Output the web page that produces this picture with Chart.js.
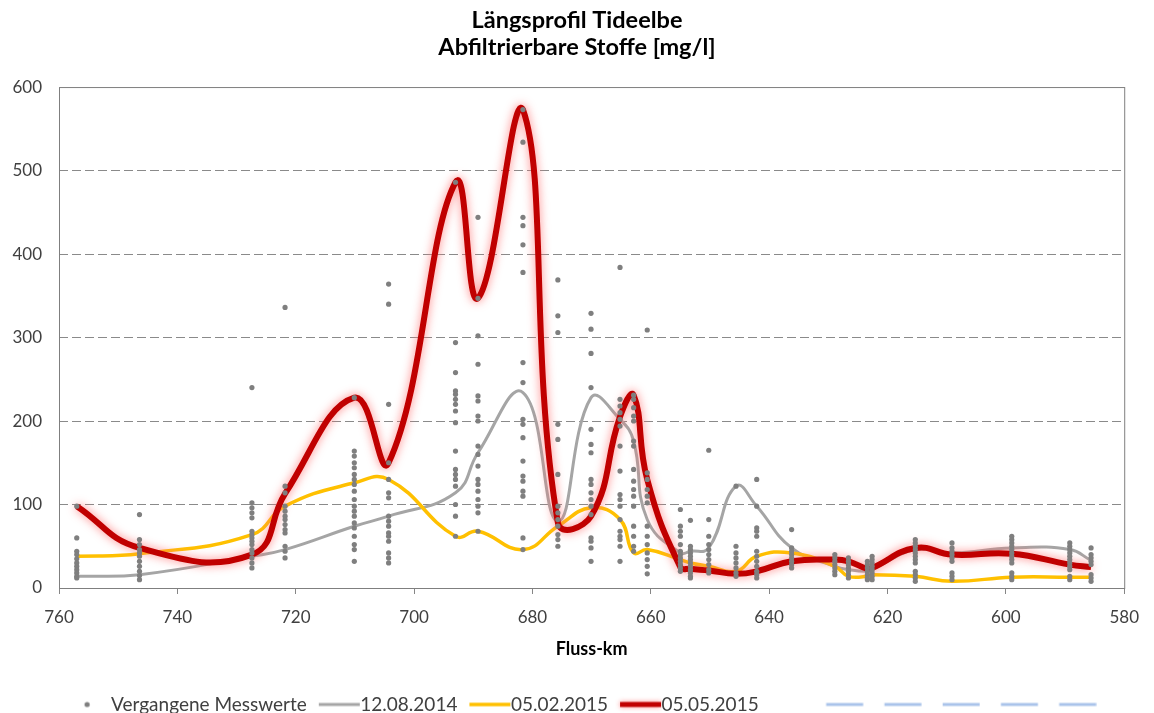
<!DOCTYPE html>
<html>
<head>
<meta charset="utf-8">
<script src="https://cdn.jsdelivr.net/npm/chart.js@4.4.1/dist/chart.umd.min.js"></script>
<style>
  html, body { margin: 0; padding: 0; background: #fff; }
</style>
</head>
<body>
<canvas id="chart" width="1154" height="713"></canvas>
<script>
// Fluss-km of the sampling stations
const stationKm = [757.0, 746.4, 727.4, 721.8, 710.1, 704.3, 693.0, 689.2, 681.6, 675.7,
  670.1, 665.2, 662.9, 660.6, 655.0, 653.3, 650.2, 645.6, 642.1, 636.2,
  628.9, 626.6, 623.4, 622.6, 615.3, 609.1, 599.0, 589.2, 585.6];

// past measurements per station (mg/l)
const pastValues = [
  [98, 60, 44, 40, 35, 30, 26, 22, 18, 14, 12],
  [88, 58, 52, 46, 42, 38, 32, 26, 20, 15, 10],
  [240, 102, 96, 90, 84, 68, 64, 60, 56, 52, 46, 42, 36, 30, 24],
  [336, 122, 114, 98, 92, 86, 82, 76, 70, 66, 50, 44, 36],
  [228, 164, 158, 150, 144, 136, 130, 124, 116, 106, 98, 92, 86, 78, 72, 62, 52, 46, 32],
  [364, 340, 220, 150, 130, 114, 108, 86, 80, 74, 66, 62, 56, 42, 36, 30],
  [486, 294, 258, 236, 232, 226, 220, 212, 198, 164, 142, 136, 130, 122, 100, 86, 62],
  [444, 347, 302, 268, 230, 224, 206, 200, 170, 160, 146, 130, 124, 116, 106, 98, 90, 68],
  [573, 534, 444, 434, 411, 378, 270, 246, 202, 196, 180, 152, 134, 128, 116, 110, 60, 46],
  [369, 326, 306, 196, 178, 136, 98, 90, 82, 74, 64, 58, 50],
  [329, 310, 281, 240, 190, 172, 162, 130, 124, 114, 106, 98, 88, 60, 56, 48, 32],
  [384, 226, 218, 210, 202, 194, 170, 140, 112, 106, 98, 82, 68, 62, 58, 50, 32],
  [231, 226, 216, 206, 200, 176, 170, 142, 128, 118, 110, 98, 74, 62, 50, 44],
  [309, 138, 130, 118, 110, 102, 74, 62, 52, 42, 34, 26, 17],
  [94, 74, 68, 62, 52, 44, 40, 36, 32, 28, 24, 20],
  [81, 50, 46, 42, 38, 34, 30, 26, 22, 18, 14, 12],
  [165, 82, 62, 52, 46, 40, 34, 28, 22, 18],
  [122, 50, 42, 36, 30, 24, 18, 14],
  [130, 98, 72, 68, 62, 44, 38, 32, 26, 20, 16, 12],
  [70, 48, 44, 40, 36, 32, 28, 24],
  [40, 36, 32, 28, 24, 20, 16],
  [36, 32, 28, 24, 20, 16, 12],
  [32, 28, 24, 20, 16, 12, 10],
  [38, 34, 30, 26, 22, 18, 14, 10],
  [58, 54, 50, 46, 42, 38, 34, 30, 20, 16, 12, 8],
  [54, 48, 44, 40, 36, 32, 18, 14, 10],
  [62, 58, 54, 50, 46, 42, 38, 34, 30, 18, 14, 10],
  [54, 50, 46, 42, 38, 34, 30, 26, 22, 14, 10],
  [48, 40, 36, 32, 28, 16, 12, 8]
];

// profiles of the three dates
const aug2014 = [14, 16, 38, 46, 74, 86, 114, 162, 234, 80, 228, 202, 176, 82, 42, 44, 48, 122, 98, 48,
  26, 22, 20, 22, 46, 42, 48, 46, 33];
const feb2015 = [38, 41, 64, 98, 126, 130, 62, 68, 46, 74, 96, 82, 42, 46, 34, 30, 26, 20, 38, 42,
  26, 14, 14, 16, 14, 8, 13, 13, 13];
const may2015 = [98, 48, 40, 113, 228, 150, 486, 347, 573, 78, 86, 205, 231, 130, 25, 23, 21, 17, 20, 32,
  34, 32, 23, 24, 48, 40, 41, 28, 25];

const seriesLabels = ['Vergangene Messwerte', '12.08.2014', '05.02.2015', '05.05.2015'];

const FONT = 'Lato, "Open Sans", sans-serif';

const toPoints = vals => stationKm.map((km, i) => ({ x: km, y: vals[i] }));
const pastPoints = [];
stationKm.forEach((km, i) => pastValues[i].forEach(v => pastPoints.push({ x: km, y: v })));

// small canvases used as legend symbols
function legendMark(w, h, draw) {
  const c = document.createElement('canvas');
  c.width = w; c.height = h;
  draw(c.getContext('2d'));
  return c;
}
function lineMark(color, width, glow) {
  return legendMark(60, 18, g => {
    if (glow) { g.shadowColor = glow; g.shadowBlur = 5; }
    g.strokeStyle = color;
    g.lineWidth = width;
    g.beginPath(); g.moveTo(18, 9); g.lineTo(59, 9); g.stroke();
  });
}
const marks = [
  legendMark(60, 18, g => {
    g.fillStyle = '#7f7f7f';
    g.beginPath(); g.arc(35.5, 9, 2.6, 0, Math.PI * 2); g.fill();
  }),
  lineMark('#a5a5a5', 3),
  lineMark('#ffc000', 3.5),
  lineMark('#c00000', 5, 'rgba(255,110,110,0.8)'),
  legendMark(628, 18, g => {
    g.strokeStyle = '#a9c3ea';
    g.lineWidth = 3;
    g.setLineDash([37, 21.25]);
    g.beginPath(); g.moveTo(357.5, 9); g.lineTo(627.5, 9); g.stroke();
  })
];

const glowPlugin = {
  id: 'glow',
  beforeDatasetDraw(chart, args) {
    if (args.index !== 3) return;
    chart.ctx.save();
    chart.ctx.shadowColor = 'rgba(255,110,110,0.85)';
    chart.ctx.shadowBlur = 10;
  },
  afterDatasetDraw(chart, args) {
    if (args.index === 3) chart.ctx.restore();
  }
};

const framePlugin = {
  id: 'frame',
  afterDraw(chart) {
    const a = chart.chartArea, ctx = chart.ctx;
    ctx.save();
    ctx.strokeStyle = '#7f7f7f';
    ctx.lineWidth = 1;
    ctx.strokeRect(a.left + 0.5, a.top + 0.5, a.right - a.left, a.bottom - a.top);
    ctx.restore();
  }
};

new Chart(document.getElementById('chart'), {
  type: 'line',
  data: {
    datasets: [
      {
        type: 'scatter',
        label: seriesLabels[0],
        data: pastPoints,
        pointRadius: 2.6,
        pointBackgroundColor: '#7f7f7f',
        pointBorderWidth: 0,
        showLine: false,
        order: 0
      },
      {
        label: seriesLabels[1],
        data: toPoints(aug2014),
        borderColor: '#a5a5a5',
        borderWidth: 3,
        pointRadius: 0,
        tension: 0.45,
        order: 3
      },
      {
        label: seriesLabels[2],
        data: toPoints(feb2015),
        borderColor: '#ffc000',
        borderWidth: 3.5,
        pointRadius: 0,
        tension: 0.45,
        order: 2
      },
      {
        label: seriesLabels[3],
        data: toPoints(may2015),
        borderColor: '#c00000',
        borderWidth: 6,
        pointRadius: 0,
        tension: 0.45,
        order: 1
      },
      {
        label: '',
        data: [],
        borderColor: '#a9c3ea',
        borderDash: [37, 21],
        pointRadius: 0,
        order: 4
      }
    ]
  },
  options: {
    responsive: false,
    animation: false,
    layout: { padding: { left: 0, right: 0, top: 0, bottom: -11 } },
    plugins: {
      title: {
        display: true,
        text: ['Längsprofil Tideelbe', 'Abfiltrierbare Stoffe [mg/l]'],
        color: '#000',
        font: { family: FONT, size: 23.5, weight: 'bold', lineHeight: 1.15 },
        padding: { top: 6.5, bottom: 26.5 }
      },
      legend: {
        position: 'bottom',
        labels: {
          usePointStyle: true,
          pointStyleWidth: 40,
          padding: 4,
          color: '#404040',
          font: { family: FONT, size: 19 },
          generateLabels(chart) {
            return chart.data.datasets.map((ds, i) => ({
              text: i === 4 ? '\u2003'.repeat(19) + '\u2002' : ds.label,
              pointStyle: marks[i],
              fillStyle: 'transparent',
              strokeStyle: 'transparent',
              lineWidth: 0,
              hidden: false,
              datasetIndex: i,
              fontColor: '#404040'
            }));
          }
        }
      },
      tooltip: { enabled: false }
    },
    scales: {
      x: {
        type: 'linear',
        reverse: true,
        min: 580,
        max: 760,
        ticks: { stepSize: 20, color: '#404040', font: { family: FONT, size: 17, lineHeight: 1 }, padding: 15 },
        grid: { drawOnChartArea: false, drawTicks: true, tickLength: 6, tickColor: '#868686', color: '#868686' },
        border: { display: false },
        title: {
          display: true,
          text: 'Fluss-km',
          color: '#000',
          font: { family: FONT, size: 18, weight: 'bold', lineHeight: 1 },
          padding: { top: -1, bottom: 33 }
        }
      },
      y: {
        min: 0,
        max: 600,
        ticks: { stepSize: 100, color: '#404040', font: { family: FONT, size: 17 }, padding: 17 },
        grid: {
          drawTicks: false,
          color: ctx => (ctx.tick.value === 0 || ctx.tick.value === 600) ? 'transparent' : '#8a8a8a'
        },
        border: { display: false, dash: [9, 4] },
        afterFit(scale) { scale.width = 59; }
      },
      yRight: {
        position: 'right',
        display: true,
        ticks: { display: false },
        grid: { display: false, drawTicks: false },
        border: { display: false },
        afterFit(scale) { scale.width = 25; }
      }
    }
  },
  plugins: [glowPlugin, framePlugin]
});
</script>
</body>
</html>
